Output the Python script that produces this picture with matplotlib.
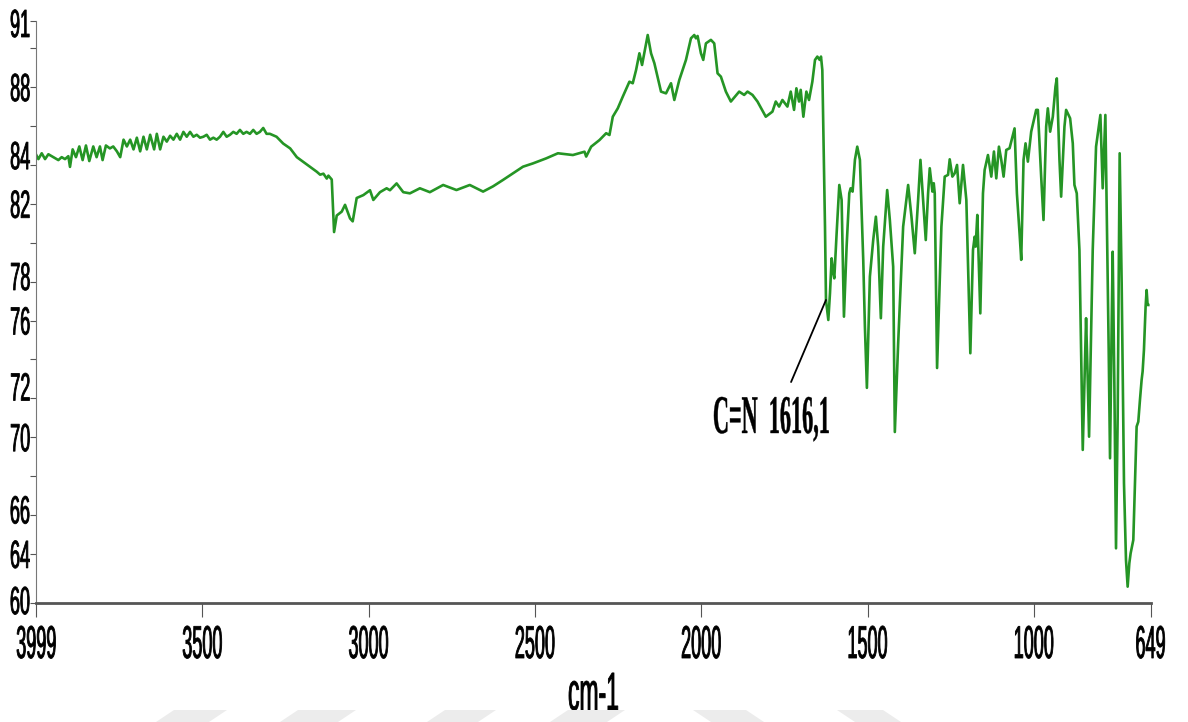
import matplotlib
matplotlib.use('Agg')
import matplotlib.pyplot as plt
from matplotlib import patheffects
from matplotlib.patches import Polygon
from matplotlib.transforms import Affine2D

# IR spectrum (cm-1, %T)
wavenumber = [
    3999, 3993, 3983, 3973, 3963, 3948, 3933, 3923, 3913, 3903, 3898, 3890, 3880, 3870,
    3860, 3850, 3840, 3828, 3818, 3808, 3800, 3790, 3778, 3768, 3757, 3747, 3737, 3727,
    3717, 3707, 3697, 3687, 3677, 3667, 3657, 3645, 3637, 3627, 3617, 3607, 3597, 3587,
    3577, 3567, 3557, 3547, 3537, 3527, 3517, 3507, 3497, 3487, 3477, 3467, 3457, 3447,
    3437, 3427, 3417, 3407, 3397, 3387, 3377, 3367, 3357, 3347, 3337, 3327, 3317, 3307,
    3297, 3277, 3257, 3236, 3216, 3196, 3176, 3156, 3146, 3136, 3126, 3121, 3111, 3104,
    3096, 3081, 3071, 3056, 3048, 3036, 3016, 2996, 2986, 2966, 2946, 2936, 2916, 2896,
    2876, 2846, 2816, 2776, 2736, 2696, 2656, 2626, 2596, 2566, 2536, 2506, 2466, 2431,
    2386, 2351, 2346, 2331, 2306, 2286, 2276, 2266, 2251, 2236, 2216, 2206, 2196, 2186,
    2178, 2161, 2151, 2141, 2121, 2106, 2091, 2081, 2066, 2046, 2031, 2021, 2016, 2011,
    2001, 1994, 1986, 1971, 1961, 1951, 1941, 1926, 1911, 1886, 1871, 1861, 1846, 1831,
    1806, 1786, 1776, 1766, 1756, 1741, 1731, 1721, 1714, 1706, 1701, 1693, 1684, 1676,
    1666, 1658, 1651, 1644, 1640, 1636, 1633, 1628, 1625, 1618, 1613, 1608, 1603, 1600,
    1593, 1585, 1578, 1571, 1563, 1555, 1551, 1545, 1538, 1531, 1523, 1513, 1508, 1502,
    1493, 1483, 1475, 1468, 1460, 1453, 1441, 1433, 1423, 1418, 1408, 1393, 1378, 1368,
    1358, 1348, 1341, 1333, 1325, 1318, 1313, 1305, 1301, 1298, 1291, 1278, 1268, 1258,
    1253, 1245, 1238, 1231, 1223, 1213, 1203, 1191, 1183, 1178, 1175, 1170, 1161, 1153,
    1148, 1138, 1128, 1120, 1113, 1105, 1098, 1091, 1083, 1073, 1058, 1051, 1043, 1038,
    1031, 1025, 1018, 1008, 993, 988, 978, 971, 963, 958, 951, 943, 935, 931,
    923, 918, 908, 903, 891, 883, 878, 871, 863, 858, 853, 848, 843, 839,
    834, 829, 823, 813, 800, 793, 785, 779, 775, 771, 767, 763, 758, 753,
    748, 742, 736, 729, 723, 718, 713, 709, 701, 696, 691, 686, 681, 676,
    673, 669, 664, 661, 658, 656,
]
transmittance = [
    84.5, 84.3, 84.6, 84.3, 84.55, 84.4, 84.25, 84.4, 84.3, 84.45, 83.9, 84.8, 84.4, 84.95,
    84.25, 85.0, 84.2, 84.95, 84.4, 84.95, 84.25, 85.0, 84.85, 84.95, 84.7, 84.4, 85.3, 84.95,
    85.3, 84.8, 85.4, 84.7, 85.45, 84.8, 85.55, 84.8, 85.6, 84.8, 85.45, 85.2, 85.5, 85.3,
    85.6, 85.3, 85.7, 85.45, 85.7, 85.45, 85.55, 85.4, 85.45, 85.55, 85.3, 85.4, 85.3, 85.45,
    85.7, 85.45, 85.55, 85.7, 85.6, 85.8, 85.6, 85.7, 85.6, 85.8, 85.6, 85.7, 85.9, 85.6,
    85.6, 85.45, 85.1, 84.85, 84.4, 84.15, 83.9, 83.65, 83.5, 83.55, 83.3, 83.45, 83.25, 80.55,
    81.4, 81.6, 81.95, 81.25, 81.1, 82.3, 82.45, 82.7, 82.2, 82.6, 82.8, 82.7, 83.05, 82.6,
    82.54, 82.8, 82.6, 82.97, 82.71, 82.97, 82.63, 82.9, 83.23, 83.57, 83.91, 84.08, 84.34, 84.6,
    84.51, 84.68, 84.43, 84.94, 85.28, 85.63, 85.54, 86.48, 86.91, 87.51, 88.28, 88.2, 88.88, 89.74,
    89.14, 90.68, 89.74, 89.23, 87.77, 87.68, 88.2, 87.34, 88.37, 89.4, 90.51, 90.68, 90.51, 90.63,
    89.74, 89.4, 90.25, 90.43, 90.25, 88.71, 88.54, 87.77, 87.26, 87.77, 87.6, 87.77, 87.6, 87.26,
    86.48, 86.74, 87.26, 87.0, 87.34, 87.0, 87.77, 86.83, 87.94, 87.26, 87.86, 86.48, 87.77, 87.34,
    88.28, 89.4, 89.57, 89.4, 89.57, 88.88, 85.97, 80.83, 77.06, 76.03, 77.4, 79.2, 78.43, 78.17,
    80.49, 82.97, 82.2, 76.2, 79.8, 82.54, 82.8, 82.63, 84.26, 84.94, 84.26, 79.12, 75.69, 72.54,
    78.26, 80.14, 81.34, 79.8, 76.12, 79.8, 82.71, 81.17, 78.77, 70.27, 74.83, 80.83, 82.97, 81.34,
    79.46, 82.2, 84.26, 82.2, 80.14, 82.54, 83.83, 82.63, 83.06, 82.54, 73.56, 80.83, 83.4, 83.49,
    84.29, 83.4, 83.57, 84.0, 82.03, 84.0, 82.2, 74.32, 79.63, 80.31, 79.8, 81.43, 76.37, 82.54,
    83.74, 84.51, 83.4, 84.69, 83.31, 84.94, 84.26, 83.4, 84.77, 84.86, 85.88, 82.54, 80.49, 79.12,
    84.26, 85.11, 84.17, 85.71, 86.83, 86.83, 83.4, 81.17, 85.97, 86.91, 85.71, 86.48, 88.03, 88.45,
    84.26, 82.37, 85.97, 86.83, 86.4, 85.11, 82.97, 82.54, 79.63, 74.49, 69.35, 72.78, 76.12, 73.63,
    70.03, 74.49, 79.63, 84.94, 86.57, 82.8, 86.57, 79.4, 74.49, 68.92, 74.49, 79.54, 72.78, 64.29,
    71.06, 84.6, 77.92, 67.63, 63.69, 62.32, 63.52, 64.04, 64.72, 67.63, 70.55, 70.8, 71.92, 72.95,
    73.38, 74.49, 76.72, 77.57, 76.8, 76.8,
]

x_ticks = [3999, 3500, 3000, 2500, 2000, 1500, 1000, 649]
y_ticks = [61.48, 64, 66, 70, 72, 76, 78, 82, 84, 88, 91.4]
y_tick_labels = ['60', '64', '66', '70', '72', '76', '78', '82', '84', '88', '91']
y_minor = [68, 74, 80, 86, 90]
peak_wn = 1625
peak_label = 'C=N  1616,1'

# the scanned labels do not sit exactly on their ticks (points, + is up)
y_label_dy = [-8, -10, -6, -10, -1.5, -10, -6, -10, -3, -10, -11.5]


class Stretch(patheffects.AbstractPathEffect):
    # draws text taller than its font, like the squeezed labels of the scan
    def __init__(self, sy, dy=0.0, lw=0.0):
        super().__init__()
        self.sy = sy
        self.dy = dy
        self.lw = lw

    def draw_path(self, renderer, gc, tpath, affine, rgbFace=None):
        shift = Affine2D().translate(0, renderer.points_to_pixels(self.dy))
        gc0 = renderer.new_gc()
        gc0.copy_properties(gc)
        if self.lw and rgbFace is not None:
            gc0.set_linewidth(self.lw)
            gc0.set_foreground(rgbFace)
        renderer.draw_path(gc0, tpath, Affine2D().scale(1, self.sy) + affine + shift, rgbFace)
        gc0.restore()


fig = plt.figure(figsize=(11.88, 7.22), dpi=100)
ax = fig.add_axes([36.4 / 1188, 119 / 722, 1114.2 / 1188, 582 / 722])

ax.plot(wavenumber, transmittance, color='#259525', lw=1.9, solid_joinstyle='round')

i = wavenumber.index(peak_wn)
ax.annotate('', xy=(wavenumber[i], transmittance[i]), xytext=(1730, 72.84),
            arrowprops=dict(arrowstyle='-', color='black', lw=1.3, shrinkA=0, shrinkB=0))
ax.text(1965, 70.22, peak_label, family='Liberation Serif', fontweight='bold', fontsize=16,
        ha='left', va='baseline', path_effects=[Stretch(2.45, lw=0.3)])

ax.set_xlim(3999, 649)
ax.set_ylim(61.48, 91.4)

for s in ['top', 'right']:
    ax.spines[s].set_visible(False)
ax.spines['left'].set_color('#777777')
ax.spines['left'].set_linewidth(0.8)
ax.spines['bottom'].set_color('#555555')
ax.spines['bottom'].set_linewidth(2.0)

ax.set_xticks(x_ticks)
ax.set_xticklabels([str(t) for t in x_ticks])
ax.set_yticks(y_ticks)
ax.set_yticklabels(y_tick_labels)
ax.set_yticks(y_minor, minor=True)

ax.tick_params(axis='x', direction='out', length=10, width=0.8, color='#555555', pad=29.6)
ax.tick_params(axis='y', which='both', direction='out', length=4.5, width=0.8,
               color='#555555', pad=0)

for lab in ax.get_xticklabels():
    lab.set_family('Liberation Sans')
    lab.set_fontsize(13)
    lab.set_va('baseline')
    lab.set_path_effects([Stretch(2.55, lw=0.6)])
for lab, dy in zip(ax.get_yticklabels(), y_label_dy):
    lab.set_family('Liberation Sans')
    lab.set_fontsize(13)
    lab.set_va('baseline')
    lab.set_path_effects([Stretch(2.17, dy=dy, lw=0.6)])

ax.set_xlabel('cm-1', family='Liberation Sans', fontsize=16.5, va='baseline',
              path_effects=[Stretch(2.35, lw=0.6)])
ax.xaxis.set_label_coords(0.5, -0.1838)

# faint watermark shapes along the bottom edge of the scan
bands = [(174, 227, -18), (298, 356, -18), (445, 496, -18), (568, 625, -18),
         (693, 746, 18), (837, 883, 18)]
for x0, x1, sl in bands:
    pts = [(x0, 710), (x1, 710), (x1 + sl, 722), (x0 + sl, 722)]
    fig.patches.append(Polygon([(px / 1188, 1 - py / 722) for px, py in pts], closed=True,
                               transform=fig.transFigure, facecolor='#ececec',
                               edgecolor='none', zorder=5))

fig.savefig('out.png', dpi=100)
